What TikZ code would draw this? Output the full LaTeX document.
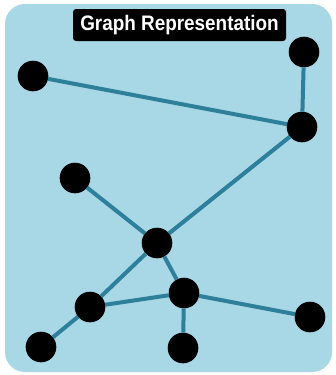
\documentclass[tikz,border=0pt]{standalone}
\usepackage{fontspec}
\usepackage{graphicx}
\setmainfont{Liberation Sans}
\definecolor{panel}{HTML}{A8D7E5}
\definecolor{edgeblue}{HTML}{2E7F9A}
\begin{document}
\begin{tikzpicture}[x=1pt,y=-1pt,
  vertex/.style={circle,fill=black,draw=black,line width=0.6pt,minimum size=30pt,inner sep=0pt},
  link/.style={draw=edgeblue,line width=4pt},
  titlebox/.style={fill=black,text=white,rounded corners=3pt,minimum width=213pt,minimum height=32pt,inner sep=0pt,font=\bfseries\fontsize{21}{22}\selectfont}]
  \useasboundingbox (0,0) rectangle (335,375);
  \fill[white] (0,0) rectangle (335,375);
  \fill[panel,rounded corners=20pt] (5,4) rectangle (332,372);
  \node[titlebox] (title) at (179.5,25) {\scalebox{0.9}[1]{Graph Representation}};
  % vertices
  \node[vertex] (a) at (304,52) {};
  \node[vertex] (b) at (33,76) {};
  \node[vertex] (c) at (302,127) {};
  \node[vertex] (d) at (75,178) {};
  \node[vertex] (e) at (157,243) {};
  \node[vertex] (f) at (90,307) {};
  \node[vertex] (g) at (184,293) {};
  \node[vertex] (h) at (310,317) {};
  \node[vertex] (i) at (41,347) {};
  \node[vertex] (j) at (183,348) {};
  % edges between vertex borders
  \path[link] (b) -- (c);
  \path[link] (a) -- (c);
  \path[link] (c) -- (e);
  \path[link] (d) -- (e);
  \path[link] (e) -- (f);
  \path[link] (e) -- (g);
  \path[link] (f) -- (g);
  \path[link] (f) -- (i);
  \path[link] (g) -- (j);
  \path[link] (g) -- (h);
\end{tikzpicture}
\end{document}
